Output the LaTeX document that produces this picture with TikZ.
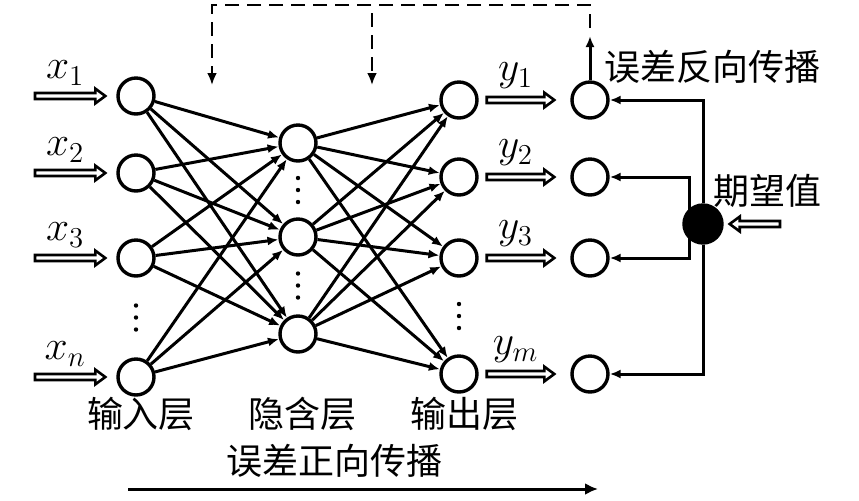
\documentclass[tikz,border=0pt]{standalone}
\usepackage{amsmath}
\usepackage{fontspec}
\newfontfamily\cjk{Noto Sans CJK SC}
\usetikzlibrary{arrows.meta, positioning, calc}

\begin{document}
\begin{tikzpicture}[x=0.5pt,y=-0.5pt,on grid,
   every node/.style={font=\fontsize{18}{20}\selectfont},
   neuron/.style={circle,draw,line width=1.7pt,minimum size=18pt,inner sep=0pt},
   sum/.style={neuron,fill=black,minimum size=19pt},
   lab/.style={font=\fontsize{20.74}{24}\selectfont,midway,above},
   dot/.style={circle,fill,inner sep=0pt,minimum size=2.2pt},
   link/.style={line width=1.5pt,-{Latex[length=5.5pt,width=4.5pt]}},
   back/.style={line width=1.4pt,dash pattern=on 7pt off 4pt,dash phase=7pt,-{Latex[length=6pt,width=5pt]}},
   hollow/.style={line width=1.3pt,line join=miter,
     to path={
       ($(\tikztostart)!1.5pt!90:(\tikztotarget)$)
       -- ($($(\tikztotarget)!5pt!(\tikztostart)$)!1.5pt!90:(\tikztotarget)$) \tikztonodes
       -- ($($(\tikztotarget)!5pt!(\tikztostart)$)!3.7pt!90:(\tikztotarget)$)
       -- (\tikztotarget)
       -- ($($(\tikztotarget)!5pt!(\tikztostart)$)!3.7pt!-90:(\tikztotarget)$)
       -- ($($(\tikztotarget)!5pt!(\tikztostart)$)!1.5pt!-90:(\tikztotarget)$)
       -- ($(\tikztostart)!1.5pt!-90:(\tikztotarget)$) -- cycle}}]
   \useasboundingbox (0,0) rectangle (859,500);
   % layers
   \node[neuron] (i1) at (136,96) {};
   \node[neuron] (i2) [below=38.5pt of i1] {};
   \node[neuron] (i3) [below=42.5pt of i2] {};
   \node[neuron] (i4) [below=59.5pt of i3] {};
   \node[neuron] (h1) at (298,143) {};
   \node[neuron] (h2) [below=47pt of h1] {};
   \node[neuron] (h3) [below=48.5pt of h2] {};
   \node[neuron] (o1) at (459,100) {};
   \node[neuron] (o2) [below=38.5pt of o1] {};
   \node[neuron] (o3) [below=40.5pt of o2] {};
   \node[neuron] (o4) [below=58pt of o3] {};
   \foreach \k in {1,...,4}
     \node[neuron] (e\k) [right=65.5pt of o\k] {};
   \node[sum] (d) at (703,224) {};
   % dots between neurons
   \path (i3) -- coordinate[midway] (vi) (i4);
   \path (h1) -- coordinate[midway] (vh1) (h2);
   \path (h2) -- coordinate[midway] (vh2) (h3);
   \path (o3) -- coordinate[midway] (vo) (o4);
   \foreach \m in {vi,vh1,vh2,vo}
     \foreach \s/\t in {-6pt/a,0pt/b,6pt/c}
       \node[dot] (\m\t) at ([yshift=\s]\m) {};
   % forward links
   \foreach \a in {1,...,4}
     \foreach \b in {1,2,3} {
       \draw[link] (i\a) -- (h\b);
       \draw[link] (h\b) -- (o\a);
     }
   % inputs and outputs
   \foreach \k/\sub in {1/1,2/2,3/3,4/n} {
     \coordinate[left=50.5pt of i\k] (xin\k);
     \coordinate (xtip\k) at ([xshift=-5.5pt]i\k.west);
     \draw[hollow] (xin\k) to node[lab] {$x_{\sub}$} (xtip\k);
   }
   \foreach \k/\sub in {1/1,2/2,3/3,4/m} {
     \coordinate (yin\k) at ([xshift=4pt]o\k.east);
     \coordinate (ytip\k) at ([xshift=-8pt]e\k.west);
     \draw[hollow] (yin\k) to node[lab] {$y_{\sub}$} (ytip\k);
   }
   % expected value
   \draw[link] (d) |- (e1);
   \draw[link] (d) |- (e4);
   \draw[link] ([xshift=-7pt]d.center) |- (e2);
   \draw[link] ([xshift=-7pt]d.center) |- (e3);
   \coordinate (din) at (780,224);
   \coordinate (dtip) at ([xshift=3pt]d.east);
   \draw[hollow] (din) to (dtip);
   \node (lexp) at (767,191) {\cjk 期望值};
   % back propagation
   \coordinate (bp) at (590,36);
   \coordinate (bptop) at (590,5);
   \coordinate (bpin) at (212,85);
   \coordinate (bpsplit) at (372,5);
   \coordinate (bphid) at (372,85);
   \draw[link] (e1) -- (bp);
   \draw[back] (bp) -- (bptop) -| (bpin);
   \draw[back] (bpsplit) -- (bphid);
   \node (lback) at (712,67) {\cjk 误差反向传播};
   % labels
   \node (lin) [below=18.5pt of i4,xshift=2.5pt] {\cjk 输入层};
   \node (lhid) [xshift=2.5pt] at (lin -| h3) {\cjk 隐含层};
   \node (lout) [xshift=2.5pt] at (lin -| o4) {\cjk 输出层};
   \node (lfw) at (335,461) {\cjk 误差正向传播};
   \coordinate (fw1) at (128,489);
   \coordinate (fw2) at (598,489);
   \draw[link,-{Latex[length=6.5pt,width=6pt]}] (fw1) -- (fw2);
\end{tikzpicture}
\end{document}
